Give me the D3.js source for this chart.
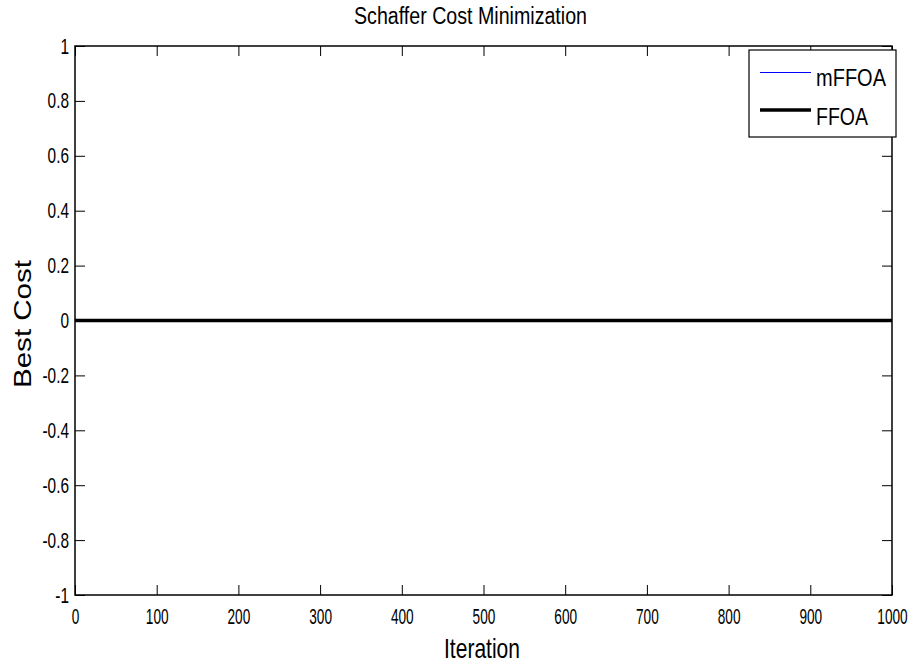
<!DOCTYPE html>
<html><head><meta charset="utf-8">
<script src="https://cdn.jsdelivr.net/npm/d3@7"></script>
<style>body{margin:0;background:#fff}svg{display:block}</style>
</head><body>
<svg id="c" width="915" height="665"></svg>
<script>
const iterations = [0,100,200,300,400,500,600,700,800,900,1000];
const mFFOA = [0,0,0,0,0,0,0,0,0,0,0];
const FFOA  = [0,0,0,0,0,0,0,0,0,0,0];
const xTicks = [0,100,200,300,400,500,600,700,800,900,1000];
const yTicks = [-1,-0.8,-0.6,-0.4,-0.2,0,0.2,0.4,0.6,0.8,1];
const seriesNames = ["mFFOA","FFOA"];

const svg = d3.select("#c");
const L=75,R=892,T=46,B=595;
const x = d3.scaleLinear().domain([0,1000]).range([L,R]);
const y = d3.scaleLinear().domain([-1,1]).range([B,T]);
const font = "'Liberation Sans',Arial,sans-serif";

// horizontally condense text with a scale transform, keeping its anchor x
function squeeze(sel, k){
  sel.each(function(){
    const t = d3.select(this);
    const x0 = +t.attr("x") || 0;
    t.attr("x", x0 / k).attr("transform", `scale(${k},1)`);
  });
}

const tl = 10;
const gB = svg.append("g").attr("transform",`translate(0,${B})`)
  .call(d3.axisBottom(x).tickValues(xTicks).tickSize(-tl).tickPadding(13).tickFormat(d3.format("d")));
const gT = svg.append("g").attr("transform",`translate(0,${T})`)
  .call(d3.axisTop(x).tickValues(xTicks).tickSize(-tl).tickFormat(""));
const gL = svg.append("g").attr("transform",`translate(${L},0)`)
  .call(d3.axisLeft(y).tickValues(yTicks).tickSize(-tl).tickPadding(6).tickFormat(d=>String(+d.toFixed(1))));
const gR = svg.append("g").attr("transform",`translate(${R},0)`)
  .call(d3.axisRight(y).tickValues(yTicks).tickSize(-tl).tickFormat(""));
[gB,gT,gL,gR].forEach(g=>{
  g.select(".domain").remove();
  g.selectAll("line").attr("stroke","#000").attr("stroke-width",1);
  g.selectAll("text").attr("font-family",font).attr("font-size",22).attr("fill","#000");
});
squeeze(gB.selectAll("text"),0.62);
squeeze(gL.selectAll("text"),0.7);

svg.append("rect").attr("x",L).attr("y",T).attr("width",R-L).attr("height",B-T)
  .attr("fill","none").attr("stroke","#000").attr("stroke-width",1.5);

const data = (vals)=>iterations.map((it,i)=>({it,v:vals[i]}));
const line = d3.line().x(d=>x(d.it)).y(d=>y(d.v));
svg.append("path").datum(data(mFFOA)).attr("d",line).attr("fill","none").attr("stroke","#0000ff").attr("stroke-width",1);
svg.append("path").datum(data(FFOA)).attr("d",line).attr("fill","none").attr("stroke","#000").attr("stroke-width",3.5);

svg.append("text").attr("x",354).attr("y",24)
  .attr("font-family",font).attr("font-size",23).attr("textLength",233).attr("lengthAdjust","spacingAndGlyphs")
  .text("Schaffer Cost Minimization");
svg.append("text").attr("x",444).attr("y",658)
  .attr("font-family",font).attr("font-size",28).attr("textLength",76).attr("lengthAdjust","spacingAndGlyphs")
  .text("Iteration");
svg.append("text").attr("transform",`translate(31,388) rotate(-90)`)
  .attr("font-family",font).attr("font-size",24).attr("textLength",128).attr("lengthAdjust","spacingAndGlyphs")
  .text("Best Cost");

const lg = svg.append("g");
lg.append("rect").attr("x",749).attr("y",50).attr("width",147).attr("height",87)
  .attr("fill","#fff").attr("stroke","#000").attr("stroke-width",1.2);
const colors=["#0000ff","#000"], widths=[1,3.5], ly=[72.5,110], lens=[70,52];
seriesNames.forEach((n,i)=>{
  lg.append("line").attr("x1",760).attr("x2",811).attr("y1",ly[i]).attr("y2",ly[i])
    .attr("stroke",colors[i]).attr("stroke-width",widths[i]);
  lg.append("text").attr("x",816).attr("y",[86,125][i]).attr("font-family",font).attr("font-size",24)
    .attr("textLength",lens[i]).attr("lengthAdjust","spacingAndGlyphs").text(n);
});
</script>
</body></html>
